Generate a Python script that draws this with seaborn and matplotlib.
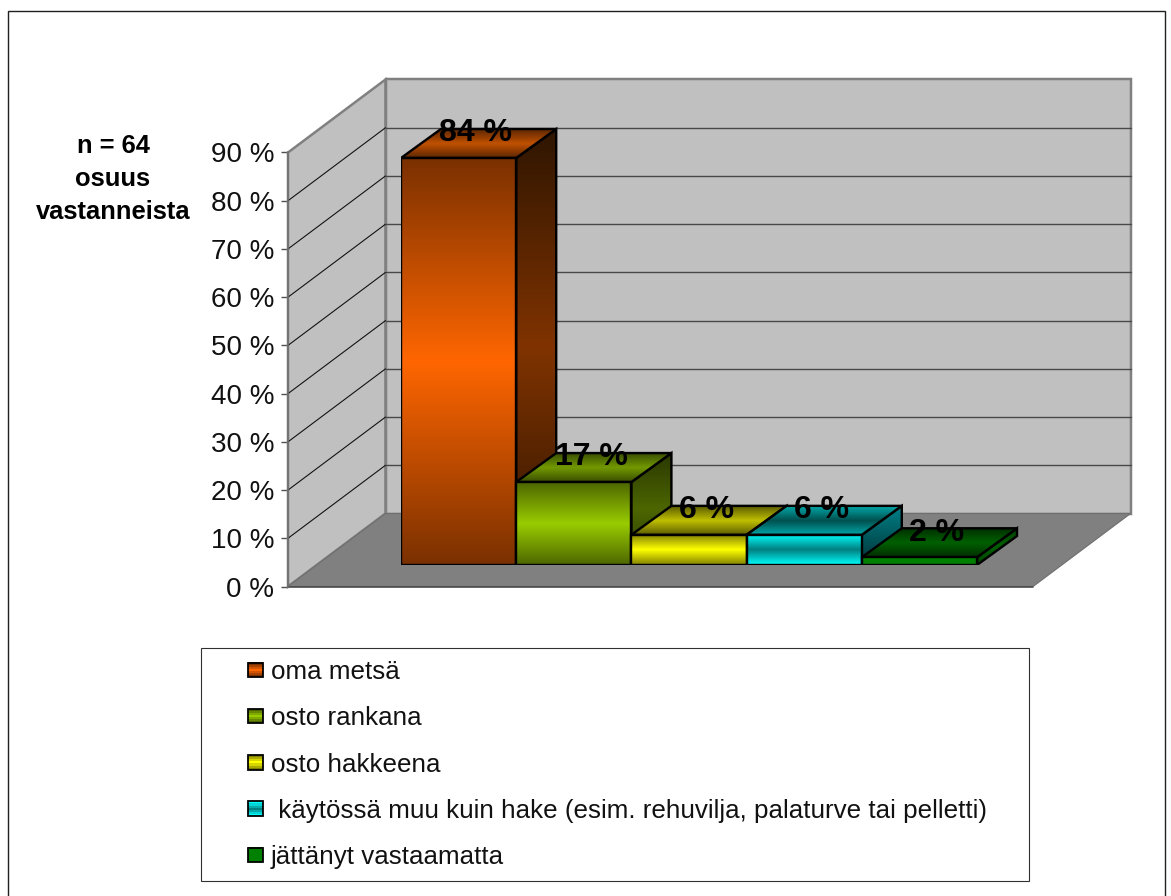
import numpy as np
import pandas as pd
import seaborn as sns
import matplotlib
matplotlib.use("Agg")
import matplotlib.pyplot as plt
from matplotlib.colors import LinearSegmentedColormap
from matplotlib.legend_handler import HandlerBase
from matplotlib.patches import Patch, Polygon, Rectangle

# ---- data
sources = ["oma metsä", "osto rankana", "osto hakkeena",
           " käytössä muu kuin hake (esim. rehuvilja, palaturve tai pelletti)",
           "jättänyt vastaamatta"]
shares = [84.4, 17.2, 6.25, 6.25, 1.6]
y_ticks = [0, 10, 20, 30, 40, 50, 60, 70, 80, 90]
y_tick_labels = [f"{t} %" for t in y_ticks]
side_title = "n = 64\nosuus\nvastanneista"

# ---- styles: (end, centre, end) gradient stops of every face
FRONT = [("#7a3000", "#ff6600", "#7a3000"), ("#4d6600", "#99cc00", "#4d6600"),
         ("#808000", "#ffff00", "#808000"), ("#00ffff", "#008080", "#00ffff"),
         ("#008000", "#008000", "#008000")]
TOP = [("#5c2600", "#c05000", "#5c2600"), ("#394d00", "#739900", "#394d00"),
       ("#5c5c00", "#bfbf00", "#5c5c00"), ("#00a8a8", "#004f4f", "#00a8a8"),
       ("#002e00", "#006000", "#002e00")]
SIDE = [("#2e1500", "#803300", "#2e1500"), ("#2a3800", "#4d6600", "#2a3800"),
        ("#3a3a00", "#808000", "#3a3a00"), ("#00343a", "#005a5e", "#008088"),
        ("#004000", "#006000", "#004000")]
WALL, FLOOR, EDGE = "#c0c0c0", "#808080", "#808080"

W, H = 1171, 896
sns.set_theme(style="white")
plt.rcParams["font.family"] = ["Liberation Sans", "DejaVu Sans"]
fig = plt.figure(figsize=(W / 100, H / 100), dpi=100, facecolor="white")


def fx(px):
    return px / W


def fy(py):
    return 1 - py / H


def lw(px):
    return px * 0.72


# outer frame (its lower edge falls off the page)
fig.add_artist(Rectangle((fx(7.5), fy(905)), fx(1164.5 - 7.5), fy(10.5) - fy(905),
                         transform=fig.transFigure, fc="none", ec="#202020",
                         lw=lw(1.4), clip_on=False))

# ---- wall axes: the front plane of the 3-D box, with the value axis
L, R, Y0, Y90 = 288, 1033, 586.5, 152.5
wall = fig.add_axes([fx(L), fy(Y0), fx(R - L), fy(Y90) - fy(Y0)])
wall.patch.set_visible(False)
wall.set_xlim(0, 1)
wall.set_ylim(0, 90)
ddx = 97.5 / (R - L)
ddy = 73 / (Y0 - Y90) * 90
wall.add_patch(Polygon([(0, 0), (0, 90), (ddx, 90 + ddy), (ddx, ddy)], fc=WALL, ec=EDGE,
                       lw=lw(2.5), clip_on=False, zorder=1))
wall.add_patch(Polygon([(ddx, ddy), (ddx, 90 + ddy), (1 + ddx, 90 + ddy), (1 + ddx, ddy)],
                       fc=WALL, ec=EDGE, lw=lw(2.5), clip_on=False, zorder=1))
wall.add_patch(Polygon([(0, 0), (1, 0), (1 + ddx, ddy), (ddx, ddy)], fc=FLOOR, ec="#707070",
                       lw=lw(1.2), clip_on=False, zorder=1.1))
for t in y_ticks[1:-1]:
    wall.plot([0, ddx], [t, t + ddy], color="#111111", lw=lw(1.1), clip_on=False, zorder=2)
    wall.plot([ddx, 1 + ddx], [t + ddy, t + ddy], color="#484848", lw=lw(1.4), clip_on=False, zorder=2)
wall.plot([0, 1], [0, 0], color="#484848", lw=lw(1.6), clip_on=False, zorder=2)
wall.set_xticks([])
wall.set_yticks(y_ticks, y_tick_labels)
wall.tick_params(axis="y", left=True, length=5, width=lw(1.4), color="#505050", pad=5,
                 labelsize=20, labelcolor="#111111")
for name, spine in wall.spines.items():
    spine.set_visible(name == "left")
wall.spines["left"].set_color("#707070")
wall.spines["left"].set_linewidth(lw(1.6))

fig.text(fx(113), fy(179), side_title, ha="center", va="center", fontsize=18.4,
         fontweight="bold", color="black", linespacing=1.48)

# ---- bar axes: the plane of the bar fronts, same value scale as the wall
B_L, B_U, B_Y0 = 401, 115.2, 565
PX_PCT = (Y0 - Y90) / 90
ax = fig.add_axes([fx(B_L), fy(B_Y0), fx(B_U * 5.5), fy(B_Y0 - PX_PCT * 100) - fy(B_Y0)])
df = pd.DataFrame({"source": sources, "share": shares})
sns.barplot(data=df, x="source", y="share", hue="source", hue_order=sources,
            palette=[c[1] for c in FRONT], width=1, dodge=False, legend=False, saturation=1, ax=ax)
ax.set_xlim(-0.5, 5.0)
ax.set_ylim(0, 100)
ax.axis("off")
ax.patch.set_visible(False)

bdx = 40 / B_U
bdy = 29 / PX_PCT


def face(points, stops, z):
    pts = np.array(points)
    cmap = LinearSegmentedColormap.from_list("f", list(stops))
    im = ax.imshow(np.linspace(0, 1, 256)[:, None], cmap=cmap, origin="lower", aspect="auto",
                   extent=[pts[:, 0].min(), pts[:, 0].max(), pts[:, 1].min(), pts[:, 1].max()],
                   zorder=z, interpolation="bilinear")
    outline = Polygon(pts, fc="none", ec="black", lw=lw(2.4), joinstyle="miter", zorder=z + 0.05)
    ax.add_patch(outline)
    im.set_clip_path(outline)


bars = sorted([p for p in ax.patches if isinstance(p, Rectangle) and p.get_height() > 0],
              key=lambda p: p.get_x())
for i, bar in enumerate(bars):
    x0, x1, v = bar.get_x(), bar.get_x() + bar.get_width(), bar.get_height()
    z = 3 + i
    face([(x1, 0), (x1 + bdx, bdy), (x1 + bdx, v + bdy), (x1, v)], SIDE[i], z)
    face([(x0, v), (x1, v), (x1 + bdx, v + bdy), (x0 + bdx, v + bdy)], TOP[i], z + 0.1)
    face([(x0, 0), (x1, 0), (x1, v), (x0, v)], FRONT[i], z + 0.2)
    bar.set_visible(False)
    ax.text((x0 + x1) / 2 + 0.15, v + 5.1, f"{v:.0f} %", ha="center", va="center",
            fontsize=23, fontweight="bold", color="black", zorder=20, clip_on=False)
ax.set_xlim(-0.5, 5.0)
ax.set_ylim(0, 100)


# ---- legend
class GradientHandle(HandlerBase):
    def create_artists(self, legend, orig, xd, yd, width, height, fontsize, trans):
        stops = orig.stops
        cmap = LinearSegmentedColormap.from_list("h", list(stops))
        n = 7
        size = width
        y0 = -yd + (height - size) / 2
        out = []
        for k in range(n):
            r = Rectangle((-xd, y0 + size * k / n), size, size / n + 0.2, fc=cmap(k / (n - 1)),
                          ec="none", transform=trans)
            out.append(r)
        out.append(Rectangle((-xd, y0), size, size, fc="none", ec="black", lw=lw(1.8), transform=trans))
        return out


fig.add_artist(Rectangle((fx(200.5), fy(881)), fx(1029 - 200.5), fy(648.5) - fy(881),
                         transform=fig.transFigure, fc="white", ec="#303030", lw=lw(1.1)))
handles = []
for src, stops in zip(sources, FRONT):
    h = Patch(label=src)
    h.stops = stops
    handles.append(h)
leg = fig.legend(handles=handles, loc="upper left", bbox_to_anchor=(fx(248), fy(660)),
                 bbox_transform=fig.transFigure, frameon=False, borderpad=0, borderaxespad=0,
                 fontsize=18.75, labelspacing=0.855, handlelength=0.56, handletextpad=0.32,
                 handler_map={Patch: GradientHandle()}, labelcolor="#111111")

fig.savefig("out.png", dpi=100)
